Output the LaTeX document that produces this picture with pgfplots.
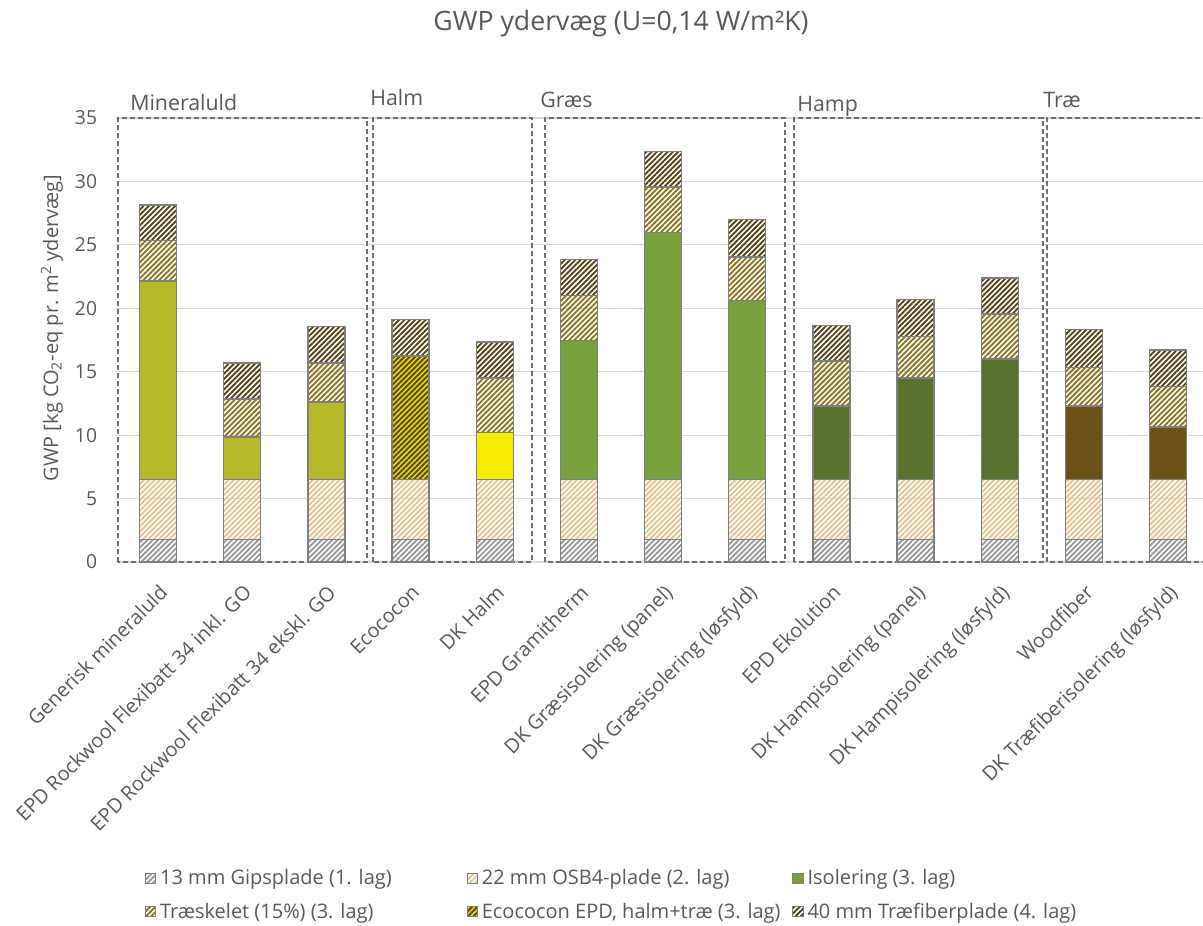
\documentclass[border=0pt]{standalone}
\usepackage{fontspec}
\setmainfont{Open Sans}
\usepackage{pgfplots}
\usepackage{pgfplotstable}
\pgfplotsset{compat=1.18}
\usetikzlibrary{patterns.meta}

\definecolor{txt}{HTML}{595959}
\definecolor{gridc}{HTML}{D9D9D9}
\definecolor{bord}{HTML}{7F7F7F}
\definecolor{boxc}{HTML}{6F6F6F}
\definecolor{gipsc}{HTML}{999999}
\definecolor{osbc}{HTML}{E6C495}
\definecolor{minc}{HTML}{B6BA2A}
\definecolor{ecoy}{HTML}{E6DC00}
\definecolor{ecol}{HTML}{5A4A12}
\definecolor{halmc}{HTML}{F7EC00}
\definecolor{graesc}{HTML}{78A03C}
\definecolor{hampc}{HTML}{5A722E}
\definecolor{traec}{HTML}{6B5217}
\definecolor{skelc}{HTML}{8C7726}
\definecolor{fiberc}{HTML}{56461A}

% x gips osb min eco halm graes hamp trae skel fiber
\pgfplotstableread{
x  gips osb  min   eco  halm graes hamp trae skel fiber
0  1.75 4.75 15.65 0    0    0     0    0    3.2  2.8
1  1.75 4.75 3.35  0    0    0     0    0    3.0  2.85
2  1.75 4.75 6.1   0    0    0     0    0    3.1  2.85
3  1.75 4.75 0     9.75 0    0     0    0    0    2.85
4  1.75 4.75 0     0    3.7  0     0    0    4.3  2.85
5  1.75 4.75 0     0    0    10.95 0    0    3.55 2.85
6  1.75 4.75 0     0    0    19.45 0    0    3.6  2.8
7  1.75 4.75 0     0    0    14.1  0    0    3.45 2.95
8  1.75 4.75 0     0    0    0     5.8  0    3.55 2.8
9  1.75 4.75 0     0    0    0     8.0  0    3.3  2.9
10 1.75 4.75 0     0    0    0     9.5  0    3.55 2.85
11 1.75 4.75 0     0    0    0     0    5.8  3.05 3.0
12 1.75 4.75 0     0    0    0     0    4.15 3.2  2.85
}\walls

\tikzset{
  hatch/.style={pattern={Lines[angle=45,distance=2.8pt,line width=1.45pt]}, pattern color=#1},
  gipsst/.style={hatch=gipsc},
  osbst/.style={hatch=osbc},
  skelst/.style={hatch=skelc},
  fiberst/.style={hatch=fiberc},
  ecost/.style={fill=ecoy, postaction={hatch=ecol}},
  grpbox/.style={draw=boxc, line width=1.1pt, dash pattern=on 3.75pt off 2.25pt},
  grplab/.style={anchor=base west, inner sep=0pt, text=txt, font=\fontsize{16}{19}\selectfont},
}

\begin{document}
\begin{tikzpicture}
\useasboundingbox (-87pt,-272.25pt) rectangle (815.25pt,421.5pt);
\begin{axis}[
  at={(0,0)}, anchor=south west,
  scale only axis, width=815.25pt, height=333pt,
  ybar stacked, bar width=0.44,
  xmin=-0.5, xmax=12.415, ymin=0, ymax=35,
  ytick={0,5,...,35},
  xtick={0,...,12},
  xticklabels={Generisk mineraluld, EPD Rockwool Flexibatt 34 inkl. GO, EPD Rockwool Flexibatt 34 ekskl. GO, Ecococon, DK Halm, EPD Gramitherm, DK Græsisolering (panel), DK Græsisolering (løsfyld), EPD Ekolution, DK Hampisolering (panel), DK Hampisolering (løsfyld), Woodfiber, DK Træfiberisolering (løsfyld)},
  axis line style={draw=none},
  major tick style={draw=none},
  ymajorgrids, grid style={draw=gridc, line width=0.9pt},
  clip=false,
  /pgf/number format/assume math mode=true,
  ticklabel style={font=\fontsize{14.5}{17}\selectfont, text=txt},
  xticklabel style={font=\fontsize{14.9}{18}\selectfont},
  yticklabel style={anchor=east, inner sep=0pt, xshift=-14pt},
  xticklabel style={yshift=-15.75pt, rotate=45, anchor=north east, inner sep=0pt},
  every axis plot/.append style={draw=bord, line width=1pt},
]
\addplot[gipsst] table[x=x, y=gips] {\walls};
\addplot[osbst] table[x=x, y=osb] {\walls};
\addplot[fill=minc] table[x=x, y=min] {\walls};
\addplot[ecost] table[x=x, y=eco] {\walls};
\addplot[fill=halmc] table[x=x, y=halm] {\walls};
\addplot[fill=graesc] table[x=x, y=graes] {\walls};
\addplot[fill=hampc] table[x=x, y=hamp] {\walls};
\addplot[fill=traec] table[x=x, y=trae] {\walls};
\addplot[skelst] table[x=x, y=skel] {\walls};
\addplot[fiberst] table[x=x, y=fiber] {\walls};

\draw[grpbox] (axis cs:-0.475,0) rectangle (axis cs:2.483,35);
\draw[grpbox] (axis cs:2.554,0) rectangle (axis cs:4.443,35);
\draw[grpbox] (axis cs:4.598,0) rectangle (axis cs:7.449,35);
\draw[grpbox] (axis cs:7.556,0) rectangle (axis cs:10.514,35);
\draw[grpbox] (axis cs:10.562,0) rectangle (axis cs:12.7,35);

\node[grplab] at (axis cs:-0.333,35.63) {Mineraluld};
\node[grplab] at (axis cs:2.519,36.02) {Halm};
\node[grplab] at (axis cs:4.538,35.79) {Græs};
\node[grplab] at (axis cs:7.592,35.55) {Hamp};
\node[grplab] at (axis cs:10.514,35.79) {Træ};
\end{axis}

% legend only
\begin{axis}[
  at={(0,0)}, anchor=south west,
  scale only axis, width=815.25pt, height=333pt,
  xmin=0, xmax=1, ymin=0, ymax=1,
  hide axis,
  legend columns=3,
  legend cell align=left,
  legend style={draw=none, fill=none, at={(axis description cs:0.0267,-0.75)}, anchor=west,
    inner sep=0pt, outer sep=0pt, row sep=12pt,
    font=\fontsize{15}{18}\selectfont, text=txt, nodes={inner sep=0pt}},
  legend image code/.code={\draw[#1, draw=bord, line width=0.5pt] (0pt,-3.9pt) rectangle (7.8pt,3.9pt);},
]
\addlegendimage{gipsst}
\addlegendentry{\makebox[233pt][l]{\hspace{3pt}13 mm Gipsplade (1. lag)}}
\addlegendimage{osbst}
\addlegendentry{\makebox[236pt][l]{\hspace{3pt}22 mm OSB4-plade (2. lag)}}
\addlegendimage{fill=graesc}
\addlegendentry{\hspace{3pt}Isolering (3. lag)}
\addlegendimage{skelst}
\addlegendentry{\makebox[233pt][l]{\hspace{3pt}Træskelet (15\%) (3. lag)}}
\addlegendimage{ecost}
\addlegendentry{\makebox[230pt][l]{\hspace{3pt}Ecococon EPD, halm+træ (3. lag)}}
\addlegendimage{fiberst}
\addlegendentry{\hspace{3pt}40 mm Træfiberplade (4. lag)}
\end{axis}

\node[anchor=base, text=txt, font=\fontsize{20}{24}\selectfont] at (378.75pt,398.25pt) {GWP ydervæg (U=0,14 W/m²K)};
\node[rotate=90, text=txt, font=\fontsize{15}{18}\selectfont] at (-48pt,175.5pt) {GWP [kg CO\textsubscript{2}-eq pr. m\textsuperscript{2} ydervæg]};
\end{tikzpicture}
\end{document}
